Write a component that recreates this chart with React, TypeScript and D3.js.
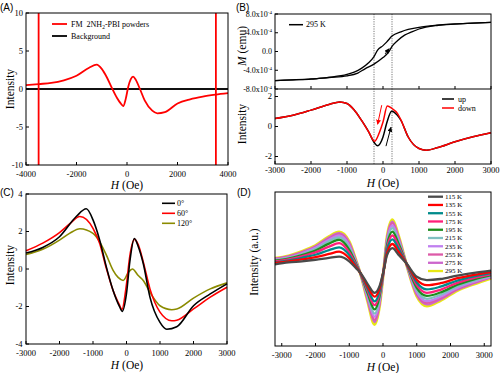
import React from 'react';
import * as d3 from 'd3';

// ---------- Panel A data ----------
const aFmH = [-4000, -3500, -3000, -2500, -2000, -1500, -1200, -1000, -800, -600, -400, -250, -150, -50, 50, 150, 240, 350, 500, 700, 1000, 1200, 1500, 2000, 2500, 3000, 3500, 4000];
const aFmI = [0.5, 0.65, 0.8, 1.15, 1.75, 2.8, 3.2, 2.65, 1.55, 0.15, -1.15, -1.9, -2.25, -1.3, 0.3, 1.3, 1.63, 1.2, 0.1, -1.5, -2.85, -3.2, -3.05, -1.9, -1.35, -1.0, -0.75, -0.55];
const aBgH = [-4000, 4000];
const aBgI = [0, 0];
const aMarkerH = [-3500, 3520];
const aXTicks = [-4000, -2000, 0, 2000, 4000];
const aYTicks = [-10, -5, 0, 5, 10];

// ---------- Panel B data ----------
// magnetisation in units of 1e-4 emu
const bLoopLowH = [-3000, -2500, -2000, -1500, -1000, -700, -500, -250, 0, 150, 250, 400, 600, 800, 1000, 1500, 2000, 2500, 3000];
const bLoopLowM = [-6.2, -6.05, -5.9, -5.55, -5.2, -4.6, -3.7, -2.7, -1.3, -0.2, 1.1, 2.3, 3.5, 4.2, 4.8, 5.55, 5.85, 6.05, 6.2];
const bLoopUpH = [-3000, -2500, -2000, -1500, -1000, -800, -600, -400, -250, -150, 0, 100, 250, 500, 700, 1000, 1500, 2000, 2500, 3000];
const bLoopUpM = [-6.2, -6.05, -5.85, -5.5, -4.9, -4.4, -3.6, -2.4, -1.1, 0.3, 1.25, 2.0, 3.3, 4.2, 4.7, 5.15, 5.6, 5.9, 6.05, 6.2];
const bUpH = [-3000, -2500, -2000, -1500, -1200, -1000, -800, -600, -400, -250, -150, 0, 100, 240, 400, 500, 700, 1000, 1200, 1500, 2000, 2500, 3000];
const bUpI = [0.53, 0.75, 1.09, 1.47, 1.64, 1.53, 1.1, 0.42, -0.35, -1.05, -1.29, -0.7, 0.2, 1.02, 0.75, 0.4, -0.7, -1.47, -1.58, -1.42, -1.02, -0.69, -0.42];
const bDownH = [-3000, -2500, -2000, -1500, -1200, -1000, -800, -600, -400, -230, -100, 0, 120, 250, 400, 500, 700, 1000, 1200, 1500, 2000, 2500, 3000];
const bDownI = [0.53, 0.75, 1.09, 1.47, 1.64, 1.53, 1.1, 0.42, -0.35, -0.98, -0.4, 0.3, 1.36, 1.2, 0.88, 0.43, -0.7, -1.47, -1.58, -1.42, -1.02, -0.69, -0.42];
const bGuideH = [-250, 250];
const bXTicks = [-3000, -2000, -1000, 0, 1000, 2000, 3000];
const bMTicks = [-8, -4, 0, 4, 8];
const bITicks = [-2, 0, 2];
// arrows: [H0, v0, H1, v1]
const bLoopArrow = [60, -0.5, 170, 0.6];
const bDownArrow = [-36, 1.42, -150, 0.15];
const bUpArrow = [83, -1.31, 222, -0.05];

// ---------- Panel C data ----------
const c0H = [-3000, -2500, -2000, -1500, -1200, -1000, -800, -600, -400, -200, -130, 0, 100, 234, 350, 500, 700, 1000, 1200, 1500, 2000, 2500, 3000];
const c0I = [0.85, 1.15, 1.72, 2.8, 3.21, 2.62, 1.54, 0.1, -1.15, -2.04, -2.26, -1.3, 0.4, 1.63, 1.2, 0.29, -1.5, -2.85, -3.21, -3.08, -1.96, -1.33, -0.79];
const c60H = [-3000, -2500, -2000, -1700, -1390, -1000, -800, -600, -400, -200, -140, 0, 100, 240, 350, 500, 700, 1000, 1350, 1500, 2000, 2500, 3000];
const c60I = [0.97, 1.38, 1.94, 2.4, 2.8, 2.17, 1.36, 0.02, -1.15, -1.96, -2.17, -0.8, 0.7, 1.58, 1.3, 0.38, -1.06, -2.3, -2.76, -2.73, -2.13, -1.5, -0.97];
const c120H = [-3000, -2500, -2000, -1700, -1390, -1000, -800, -600, -400, -250, -100, 50, 175, 350, 500, 700, 1000, 1350, 1500, 2000, 2500, 3000];
const c120I = [0.77, 1.05, 1.54, 1.9, 2.15, 1.9, 1.45, 0.74, -0.07, -0.45, -0.61, -0.2, 0.0, -0.35, -0.61, -1.24, -1.96, -2.17, -2.13, -1.55, -1.06, -0.74];
const cLabels = ['0°', '60°', '120°'];
const cXTicks = [-3000, -2000, -1000, 0, 1000, 2000, 3000];
const cYTicks = [-4, -2, 0, 2, 4];

// ---------- Panel D data ----------
const dH = [-3200, -2800, -2400, -2000, -1600, -1300, -1000, -800, -650, -450, -250, -100, 30, 120, 280, 450, 700, 1000, 1300, 1700, 2200, 2700, 3200];
const d115 = [0.6, 0.85, 1.0, 1.2, 1.45, 1.6, 1.0, 0.1, -0.6, -2.0, -3.1, -2.2, 0.0, 1.8, 2.7, 1.9, 0.7, -1.0, -1.45, -1.3, -0.85, -0.5, -0.2];
const d135 = [0.8, 1.0, 1.25, 1.55, 1.95, 2.25, 1.4, 0.25, -0.65, -2.3, -3.6, -2.5, 0.03, 2.1, 3.25, 2.3, 0.68, -1.4, -2.1, -1.85, -1.2, -0.75, -0.4];
const d155 = [0.9, 1.1, 1.45, 1.85, 2.45, 2.8, 1.8, 0.4, -0.7, -2.6, -4.2, -2.85, 0.06, 2.5, 3.85, 2.7, 0.66, -1.75, -2.65, -2.3, -1.5, -0.95, -0.55];
const d175 = [1.0, 1.25, 1.65, 2.15, 2.9, 3.35, 2.15, 0.55, -0.74, -2.9, -4.7, -3.15, 0.1, 2.8, 4.35, 3.05, 0.64, -2.1, -3.1, -2.7, -1.8, -1.15, -0.7];
const d195 = [1.1, 1.35, 1.8, 2.4, 3.3, 3.8, 2.5, 0.7, -0.78, -3.2, -5.25, -3.5, 0.13, 3.1, 4.85, 3.4, 0.62, -2.45, -3.5, -3.05, -2.05, -1.35, -0.8];
const d215 = [1.15, 1.45, 1.95, 2.6, 3.6, 4.1, 2.8, 0.82, -0.8, -3.5, -5.8, -3.85, 0.16, 3.4, 5.3, 3.7, 0.6, -2.75, -3.87, -3.35, -2.25, -1.5, -0.9];
const d235 = [1.2, 1.5, 2.05, 2.75, 3.8, 4.35, 3.05, 0.92, -0.83, -3.75, -6.2, -4.1, 0.2, 3.65, 5.65, 3.95, 0.58, -3.0, -4.17, -3.6, -2.45, -1.65, -1.0];
const d255 = [1.3, 1.6, 2.15, 2.85, 3.95, 4.5, 3.25, 1.0, -0.85, -3.95, -6.6, -4.35, 0.23, 3.85, 5.95, 4.15, 0.56, -3.2, -4.4, -3.8, -2.6, -1.75, -1.05];
const d275 = [1.35, 1.65, 2.2, 2.95, 4.1, 4.65, 3.4, 1.07, -0.87, -4.1, -6.9, -4.55, 0.26, 4.0, 6.15, 4.3, 0.54, -3.35, -4.6, -3.95, -2.7, -1.85, -1.1];
const d295 = [1.4, 1.7, 2.3, 3.05, 4.2, 4.8, 3.55, 1.12, -0.9, -4.25, -7.2, -4.75, 0.3, 4.15, 6.4, 4.45, 0.52, -3.5, -4.8, -4.1, -2.8, -1.95, -1.2];
const dSeries = [d115, d135, d155, d175, d195, d215, d235, d255, d275, d295];
const dLabels = ['115 K', '135 K', '155 K', '175 K', '195 K', '215 K', '235 K', '255 K', '275 K', '295 K'];
const dColors = ['#4a4a4a', '#ff0000', '#008b8b', '#ff1f7a', '#1e8c1e', '#80c0c0', '#c080f0', '#dd5aa8', '#cc66cc', '#e8e814'];
const dXTicks = [-3000, -2000, -1000, 0, 1000, 2000, 3000];

const serif = 'Liberation Serif, DejaVu Serif, serif';
const sans = 'Liberation Sans, DejaVu Sans, sans-serif';
const TICK = 8.5;
const TITLE = 11.5;

function path(xs: number[], ys: number[], sx: any, sy: any) {
  return d3
    .line<number>()
    .x((i) => sx(xs[i]))
    .y((i) => sy(ys[i]))
    .curve(d3.curveMonotoneX)(d3.range(xs.length)) as string;
}

function Frame({ sx, sy }: any) {
  const [x0, x1] = sx.range();
  const [y1, y0] = sy.range();
  return <rect x={x0} y={y0} width={x1 - x0} height={y1 - y0} fill="none" stroke="#000" strokeWidth={1} />;
}

function XTicks({ sx, yBase, ticks, labelY, labels = true }: any) {
  return (
    <g>
      {ticks.map((t: number) => (
        <g key={t}>
          <line x1={sx(t)} x2={sx(t)} y1={yBase} y2={yBase - 3} stroke="#000" strokeWidth={1} />
          {labels && (
            <text x={sx(t)} y={labelY} textAnchor="middle" style={{ fontFamily: serif }} fontSize={TICK}>
              {String(t)}
            </text>
          )}
        </g>
      ))}
    </g>
  );
}

function YTicks({ sy, xBase, ticks, labelX, fmt, size = TICK }: any) {
  return (
    <g>
      {ticks.map((t: number) => (
        <g key={t}>
          <line x1={xBase} x2={xBase + 3} y1={sy(t)} y2={sy(t)} stroke="#000" strokeWidth={1} />
          <text x={labelX} y={sy(t)} dy="0.33em" textAnchor="end" style={{ fontFamily: serif }} fontSize={size}>
            {fmt ? fmt(t) : String(t)}
          </text>
        </g>
      ))}
    </g>
  );
}

function HTitle({ x, y }: any) {
  return (
    <text x={x} y={y} textAnchor="middle" style={{ fontFamily: serif }} fontSize={TITLE}>
      <tspan fontStyle="italic">H</tspan> (Oe)
    </text>
  );
}

function VTitle({ x, y, children }: any) {
  return (
    <text x={0} y={0} transform={`translate(${x},${y}) rotate(-90)`} dy="0.33em" textAnchor="middle" style={{ fontFamily: serif }} fontSize={TITLE}>
      {children}
    </text>
  );
}

function Arrow({ a, sx, sy, color, id }: any) {
  return (
    <line x1={sx(a[0])} y1={sy(a[1])} x2={sx(a[2])} y2={sy(a[3])} stroke={color} strokeWidth={1} markerEnd={`url(#${id})`} />
  );
}

export default function App() {
  // Panel A scales
  const ax = d3.scaleLinear().domain([-4000, 4000]).range([26, 228]);
  const ay = d3.scaleLinear().domain([-10, 10]).range([165, 13]);
  // Panel B
  const bx = d3.scaleLinear().domain([-3000, 3000]).range([275, 491]);
  const bMy = d3.scaleLinear().domain([-8, 8]).range([89, 14]);
  const bIy = d3.scaleLinear().domain([-2.5, 2.5]).range([164, 89]);
  // Panel C
  const cx = d3.scaleLinear().domain([-3000, 3000]).range([26, 227]);
  const cy = d3.scaleLinear().domain([-4, 4]).range([344, 194]);
  // Panel D
  const dx = d3.scaleLinear().domain([-3200, 3200]).range([275, 491]);
  const dy = d3.scaleLinear().domain([-10, 10]).range([346, 192]);

  const mFmt = (t: number) =>
    t === 0 ? (
      '0.0'
    ) : (
      <>
        {`${t < 0 ? '-' : ''}${Math.abs(t).toFixed(1)}x10`}
        <tspan fontSize={5} dy={-3}>
          -4
        </tspan>
      </>
    );

  const cColors = ['#000000', '#ff0000', '#8b8b00'];
  const cSeries = [
    [c0H, c0I],
    [c60H, c60I],
    [c120H, c120I],
  ];

  return (
    <svg width={500} height={373} style={{ position: 'absolute', left: 0, top: 0, background: '#fff' }}>
      <defs>
        <marker id="ahR" viewBox="0 0 10 10" refX={9} refY={5} markerWidth={5} markerHeight={5} orient="auto">
          <path d="M0,0 L10,5 L0,10 z" fill="#ff0000" />
        </marker>
        <marker id="ahK" viewBox="0 0 10 10" refX={9} refY={5} markerWidth={5} markerHeight={5} orient="auto">
          <path d="M0,0 L10,5 L0,10 z" fill="#000" />
        </marker>
      </defs>
      <rect x={0} y={0} width={500} height={373} fill="#fff" />

      {/* ================= Panel A ================= */}
      <text x={0} y={11} style={{ fontFamily: sans }} fontSize={10}>(A)</text>
      <path d={path(aBgH, aBgI, ax, ay)} fill="none" stroke="#111" strokeWidth={2.2} />
      <path d={path(aFmH, aFmI, ax, ay)} fill="none" stroke="#ff0000" strokeWidth={1.8} />
      {aMarkerH.map((h) => (
        <line key={h} x1={ax(h)} x2={ax(h)} y1={ay(10)} y2={ay(-10)} stroke="#ff0000" strokeWidth={1.8} />
      ))}
      <Frame sx={ax} sy={ay} />
      <XTicks sx={ax} yBase={165} ticks={aXTicks} labelY={176.5} />
      <YTicks sy={ay} xBase={26} ticks={aYTicks} labelX={23} />
      <HTitle x={127} y={189} />
      <VTitle x={10} y={89}>Intensity</VTitle>
      <line x1={52} x2={67} y1={24} y2={24} stroke="#ff0000" strokeWidth={1.8} />
      <text x={71} y={24} dy="0.33em" style={{ fontFamily: serif }} fontSize={8}>
        {'FM\u00a0\u00a02NH'}
        <tspan fontSize={5.5} dy={2}>2</tspan>
        <tspan dy={-2}>-PBI powders</tspan>
      </text>
      <line x1={52} x2={67} y1={36} y2={36} stroke="#000" strokeWidth={1.8} />
      <text x={71} y={36} dy="0.33em" style={{ fontFamily: serif }} fontSize={8}>Background</text>

      {/* ================= Panel B ================= */}
      <text x={236} y={11} style={{ fontFamily: sans }} fontSize={10}>(B)</text>
      {bGuideH.map((h) => (
        <line key={h} x1={bx(h)} x2={bx(h)} y1={14} y2={164} stroke="#555" strokeWidth={0.8} strokeDasharray="1.2,1.2" />
      ))}
      <path d={path(bLoopLowH, bLoopLowM, bx, bMy)} fill="none" stroke="#000" strokeWidth={1.3} />
      <path d={path(bLoopUpH, bLoopUpM, bx, bMy)} fill="none" stroke="#000" strokeWidth={1.3} />
      <Arrow a={bLoopArrow} sx={bx} sy={bMy} color="#000" id="ahK" />
      <path d={path(bUpH, bUpI, bx, bIy)} fill="none" stroke="#000" strokeWidth={1.5} />
      <path d={path(bDownH, bDownI, bx, bIy)} fill="none" stroke="#ff0000" strokeWidth={1.5} />
      <Arrow a={bDownArrow} sx={bx} sy={bIy} color="#ff0000" id="ahR" />
      <Arrow a={bUpArrow} sx={bx} sy={bIy} color="#000" id="ahK" />
      <rect x={275} y={14} width={216} height={150} fill="none" stroke="#000" strokeWidth={1} />
      <line x1={275} x2={491} y1={89} y2={89} stroke="#000" strokeWidth={1} />
      <XTicks sx={bx} yBase={89} ticks={bXTicks} labels={false} />
      <XTicks sx={bx} yBase={164} ticks={bXTicks} labelY={173} />
      <YTicks sy={bMy} xBase={275} ticks={bMTicks} labelX={272} fmt={mFmt} size={8} />
      <YTicks sy={bIy} xBase={275} ticks={bITicks} labelX={272} />
      <HTitle x={383} y={187} />
      <VTitle x={242} y={46}>
        <tspan fontStyle="italic">M</tspan> (emu)
      </VTitle>
      <VTitle x={242} y={124}>Intensity</VTitle>
      <line x1={289} x2={303} y1={24.7} y2={24.7} stroke="#000" strokeWidth={1.5} />
      <text x={306} y={24.7} dy="0.33em" style={{ fontFamily: serif }} fontSize={8}>295 K</text>
      <line x1={442} x2={454} y1={99} y2={99} stroke="#000" strokeWidth={1.5} />
      <text x={458} y={99} dy="0.33em" style={{ fontFamily: serif }} fontSize={8}>up</text>
      <line x1={442} x2={454} y1={108} y2={108} stroke="#ff0000" strokeWidth={1.5} />
      <text x={458} y={108} dy="0.33em" style={{ fontFamily: serif }} fontSize={8}>down</text>

      {/* ================= Panel C ================= */}
      <text x={0} y={196} style={{ fontFamily: sans }} fontSize={10}>(C)</text>
      {[2, 1, 0].map((k) => (
        <path key={k} d={path(cSeries[k][0], cSeries[k][1], cx, cy)} fill="none" stroke={cColors[k]} strokeWidth={1.6} />
      ))}
      <Frame sx={cx} sy={cy} />
      <XTicks sx={cx} yBase={344} ticks={cXTicks} labelY={356} />
      <YTicks sy={cy} xBase={26} ticks={cYTicks} labelX={22.5} />
      <HTitle x={127} y={369} />
      <VTitle x={10.5} y={265}>Intensity</VTitle>
      {cLabels.map((l, i) => (
        <g key={l}>
          <line x1={162} x2={175} y1={203.3 + i * 10} y2={203.3 + i * 10} stroke={cColors[i]} strokeWidth={1.6} />
          <text x={177} y={203.3 + i * 10} dy="0.33em" style={{ fontFamily: serif }} fontSize={8}>{l}</text>
        </g>
      ))}

      {/* ================= Panel D ================= */}
      <text x={237} y={196} style={{ fontFamily: sans }} fontSize={10}>(D)</text>
      {d3.range(dSeries.length - 1, -1, -1).map((k) => (
        <path key={k} d={path(dH, dSeries[k], dx, dy)} fill="none" stroke={dColors[k]} strokeWidth={k === 9 ? 3 : 2.3} />
      ))}
      <Frame sx={dx} sy={dy} />
      <XTicks sx={dx} yBase={346} ticks={dXTicks} labelY={358} />
      <HTitle x={383} y={371} />
      <VTitle x={254} y={262}>Intensity (a.u.)</VTitle>
      {dLabels.map((l, i) => (
        <g key={l}>
          <line x1={428} x2={443} y1={196.7 + i * 8.26} y2={196.7 + i * 8.26} stroke={dColors[i]} strokeWidth={2.3} />
          <text x={445} y={196.7 + i * 8.26} dy="0.33em" style={{ fontFamily: serif }} fontSize={7}>{l}</text>
        </g>
      ))}
    </svg>
  );
}
